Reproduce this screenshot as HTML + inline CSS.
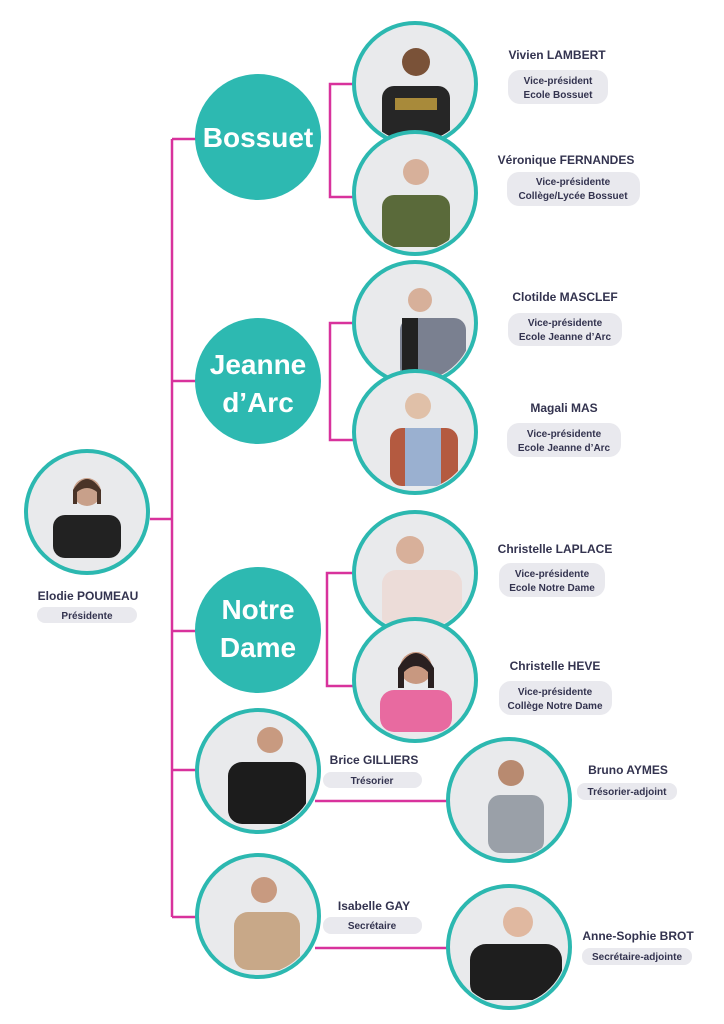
<!DOCTYPE html>
<html><head><meta charset="utf-8"><style>
html,body{margin:0;padding:0;background:#fff;}
svg{display:block;}
.n{font-family:"Liberation Sans",sans-serif;font-weight:bold;font-size:12px;fill:#33334f;text-anchor:middle;}
.p{font-family:"Liberation Sans",sans-serif;font-weight:bold;font-size:10px;fill:#33334f;text-anchor:middle;}
.b{font-family:"Liberation Sans",sans-serif;font-weight:bold;font-size:28px;fill:#fff;text-anchor:middle;}
.pill{fill:#e9e9ee;}
.ph{fill:#e9eaec;}
.rim{fill:none;stroke:#2cb8b0;stroke-width:4;}
.ln{stroke:#d8329c;stroke-width:2.5;fill:none;}
</style></head><body>
<svg width="724" height="1024" viewBox="0 0 724 1024" xmlns="http://www.w3.org/2000/svg">
<defs>
<clipPath id="c1"><circle cx="87" cy="512" r="58"/></clipPath>
<clipPath id="c2"><circle cx="415" cy="84" r="58"/></clipPath>
<clipPath id="c3"><circle cx="415" cy="193" r="58"/></clipPath>
<clipPath id="c4"><circle cx="415" cy="323" r="58"/></clipPath>
<clipPath id="c5"><circle cx="415" cy="432" r="58"/></clipPath>
<clipPath id="c6"><circle cx="415" cy="573" r="58"/></clipPath>
<clipPath id="c7"><circle cx="415" cy="680" r="58"/></clipPath>
<clipPath id="c8"><circle cx="258" cy="771" r="58"/></clipPath>
<clipPath id="c9"><circle cx="509" cy="800" r="58"/></clipPath>
<clipPath id="c10"><circle cx="258" cy="916" r="58"/></clipPath>
<clipPath id="c11"><circle cx="509" cy="947" r="58"/></clipPath>
</defs>
<path class="ln" d="M172 139 V917 M150 519 H172 M172 139 H200 M172 381 H200 M172 631 H200 M172 770 H200 M172 917 H200"/>
<path class="ln" d="M360 84 H330 V197 H360 M360 323 H330 V440 H360 M360 573 H327 V686 H360"/>
<path class="ln" d="M315 801 H450 M315 948 H450"/>

<circle cx="258" cy="137" r="63" fill="#2db9b1"/>
<text class="b" x="258" y="147">Bossuet</text>
<circle cx="258" cy="381" r="63" fill="#2db9b1"/>
<text class="b" x="258" y="374">Jeanne</text><text class="b" x="258" y="412">d’Arc</text>
<circle cx="258" cy="630" r="63" fill="#2db9b1"/>
<text class="b" x="258" y="619">Notre</text><text class="b" x="258" y="657">Dame</text>

<!-- Elodie -->
<circle class="ph" cx="87" cy="512" r="61"/><g clip-path="url(#c1)">
<rect x="53" y="515" width="68" height="43" rx="12" fill="#222"/><circle cx="87" cy="492" r="14" fill="#c8a08a"/><path d="M73 490 q14 -22 28 0 v14 h-4 v-12 q-10 -8 -20 0 v12 h-4z" fill="#4a3428"/></g><circle class="rim" cx="87" cy="512" r="61"/>
<!-- Vivien -->
<circle class="ph" cx="415" cy="84" r="61"/><g clip-path="url(#c2)">
<rect x="382" y="86" width="68" height="60" rx="12" fill="#262626"/><rect x="395" y="98" width="42" height="12" fill="#a88a3a"/><circle cx="416" cy="62" r="14" fill="#7a5238"/></g><circle class="rim" cx="415" cy="84" r="61"/>
<!-- Veronique -->
<circle class="ph" cx="415" cy="193" r="61"/><g clip-path="url(#c3)">
<rect x="382" y="195" width="68" height="52" rx="12" fill="#5a6a3a"/><circle cx="416" cy="172" r="13" fill="#d7b09a"/></g><circle class="rim" cx="415" cy="193" r="61"/>
<!-- Clotilde -->
<circle class="ph" cx="415" cy="323" r="61"/><g clip-path="url(#c4)">
<rect x="400" y="318" width="66" height="62" rx="12" fill="#7a8090"/><rect x="402" y="318" width="16" height="62" fill="#222"/><circle cx="420" cy="300" r="12" fill="#d7b09a"/></g><circle class="rim" cx="415" cy="323" r="61"/>
<!-- Magali -->
<circle class="ph" cx="415" cy="432" r="61"/><g clip-path="url(#c5)">
<rect x="390" y="428" width="68" height="58" rx="12" fill="#b45a40"/><rect x="405" y="428" width="36" height="58" fill="#9ab0d0"/><circle cx="418" cy="406" r="13" fill="#e0c0a8"/></g><circle class="rim" cx="415" cy="432" r="61"/>
<!-- Christelle L -->
<circle class="ph" cx="415" cy="573" r="61"/><g clip-path="url(#c6)">
<rect x="382" y="570" width="80" height="62" rx="14" fill="#ecdcd8"/><circle cx="410" cy="550" r="14" fill="#d8b09a"/></g><circle class="rim" cx="415" cy="573" r="61"/>
<!-- Christelle H -->
<circle class="ph" cx="415" cy="680" r="61"/><g clip-path="url(#c7)">
<rect x="380" y="690" width="72" height="42" rx="14" fill="#e86aa0"/><circle cx="416" cy="668" r="16" fill="#c89880"/><path d="M398 668 q18 -30 36 0 v20 h-6 v-16 q-12 -12 -24 0 v16 h-6z" fill="#2a2020"/></g><circle class="rim" cx="415" cy="680" r="61"/>
<!-- Brice -->
<circle class="ph" cx="258" cy="771" r="61"/><g clip-path="url(#c8)">
<rect x="228" y="762" width="78" height="62" rx="14" fill="#1c1c1c"/><circle cx="270" cy="740" r="13" fill="#c89a80"/></g><circle class="rim" cx="258" cy="771" r="61"/>
<!-- Bruno -->
<circle class="ph" cx="509" cy="800" r="61"/><g clip-path="url(#c9)">
<rect x="488" y="795" width="56" height="58" rx="12" fill="#9aa0a8"/><circle cx="511" cy="773" r="13" fill="#b88a70"/></g><circle class="rim" cx="509" cy="800" r="61"/>
<!-- Isabelle -->
<circle class="ph" cx="258" cy="916" r="61"/><g clip-path="url(#c10)">
<rect x="234" y="912" width="66" height="58" rx="14" fill="#c8a888"/><circle cx="264" cy="890" r="13" fill="#c89a80"/></g><circle class="rim" cx="258" cy="916" r="61"/>
<!-- Anne-Sophie -->
<circle class="ph" cx="509" cy="947" r="61"/><g clip-path="url(#c11)">
<rect x="470" y="944" width="92" height="56" rx="16" fill="#1e1e1e"/><circle cx="518" cy="922" r="15" fill="#e0b8a0"/></g><circle class="rim" cx="509" cy="947" r="61"/>

<text class="n" x="88" y="600">Elodie POUMEAU</text>
<rect class="pill" x="37" y="607" width="100" height="16" rx="8"/><text class="p" x="87" y="619">Présidente</text>

<text class="n" x="557" y="59">Vivien LAMBERT</text>
<rect class="pill" x="508" y="70" width="100" height="34" rx="12"/><text class="p" x="558" y="84">Vice-président</text><text class="p" x="558" y="98">Ecole Bossuet</text>

<text class="n" x="566" y="164">Véronique FERNANDES</text>
<rect class="pill" x="507" y="172" width="133" height="34" rx="12"/><text class="p" x="573" y="185">Vice-présidente</text><text class="p" x="573" y="199">Collège/Lycée Bossuet</text>

<text class="n" x="565" y="301">Clotilde MASCLEF</text>
<rect class="pill" x="508" y="313" width="114" height="33" rx="12"/><text class="p" x="565" y="326">Vice-présidente</text><text class="p" x="565" y="340">Ecole Jeanne d’Arc</text>

<text class="n" x="564" y="412">Magali MAS</text>
<rect class="pill" x="507" y="423" width="114" height="34" rx="12"/><text class="p" x="564" y="437">Vice-présidente</text><text class="p" x="564" y="451">Ecole Jeanne d’Arc</text>

<text class="n" x="555" y="553">Christelle LAPLACE</text>
<rect class="pill" x="499" y="563" width="106" height="34" rx="12"/><text class="p" x="552" y="577">Vice-présidente</text><text class="p" x="552" y="591">Ecole Notre Dame</text>

<text class="n" x="555" y="670">Christelle HEVE</text>
<rect class="pill" x="499" y="681" width="113" height="34" rx="12"/><text class="p" x="555" y="695">Vice-présidente</text><text class="p" x="555" y="709">Collège Notre Dame</text>

<text class="n" x="374" y="764">Brice GILLIERS</text>
<rect class="pill" x="323" y="772" width="99" height="16" rx="8"/><text class="p" x="372" y="784">Trésorier</text>

<text class="n" x="628" y="774">Bruno AYMES</text>
<rect class="pill" x="577" y="783" width="100" height="17" rx="8"/><text class="p" x="627" y="795">Trésorier-adjoint</text>

<text class="n" x="374" y="910">Isabelle GAY</text>
<rect class="pill" x="323" y="917" width="99" height="17" rx="8"/><text class="p" x="372" y="929">Secrétaire</text>

<text class="n" x="638" y="940">Anne-Sophie BROT</text>
<rect class="pill" x="582" y="948" width="110" height="17" rx="8"/><text class="p" x="637" y="960">Secrétaire-adjointe</text>
</svg>
</body></html>
